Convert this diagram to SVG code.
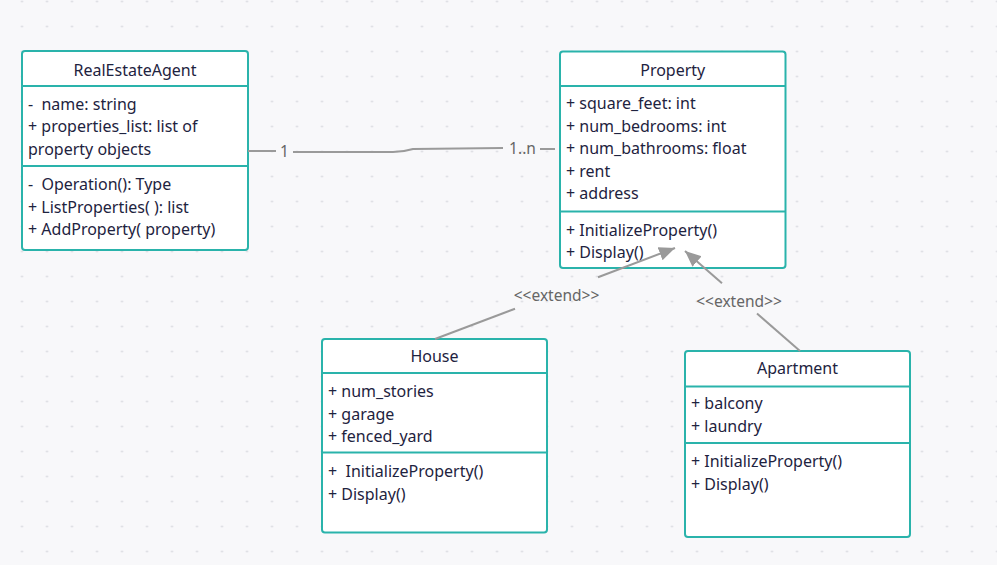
<svg xmlns="http://www.w3.org/2000/svg" width="997" height="565" viewBox="0 0 997 565">
<defs>
<pattern id="grid" patternUnits="userSpaceOnUse" x="9.5" y="-11" width="25" height="25">
<circle cx="12.5" cy="12.5" r="1.1" fill="#d9dae0"/>
</pattern>
<marker id="tri" markerUnits="userSpaceOnUse" markerWidth="18" markerHeight="16" refX="16" refY="7" orient="auto">
<path d="M0,0 L16,7 L0,14 Z" fill="#9a9a9a"/>
</marker>
<style>
.box{fill:#ffffff;stroke:#2ab3ab;stroke-width:2}
.sep{stroke:#2ab3ab;stroke-width:2}
.t{font-family:"Noto Sans","Open Sans","DejaVu Sans",sans-serif;font-size:16px;fill:#1e2340;white-space:pre}
.c{text-anchor:middle}
.conn{stroke:#9a9a9a;stroke-width:2;fill:none}
.lbl{font-family:"Noto Sans","Open Sans","DejaVu Sans",sans-serif;font-size:15.5px;fill:#666666}
</style>
</defs>
<rect width="997" height="565" fill="#f8f8fa"/>
<rect width="997" height="565" fill="url(#grid)"/>

<g id="RealEstateAgent">
<rect class="box" x="22" y="51" width="226" height="199" rx="3"/>
<line class="sep" x1="22" y1="86" x2="248" y2="86"/>
<line class="sep" x1="22" y1="166" x2="248" y2="166"/>
<text class="t c" x="135" y="75.5">RealEstateAgent</text>
<text class="t" x="28" y="109.5" xml:space="preserve">-  name: string</text>
<text class="t" x="28" y="132">+ properties_list: list of</text>
<text class="t" x="28" y="154.5">property objects</text>
<text class="t" x="28" y="190" xml:space="preserve">-  Operation(): Type</text>
<text class="t" x="28" y="212.5">+ ListProperties( ): list</text>
<text class="t" x="28" y="235">+ AddProperty( property)</text>
</g>

<g id="Property">
<rect class="box" x="560" y="51.5" width="225.5" height="216.5" rx="3"/>
<line class="sep" x1="560" y1="86" x2="785.5" y2="86"/>
<line class="sep" x1="560" y1="211.5" x2="785.5" y2="211.5"/>
<text class="t c" x="672.75" y="75.5">Property</text>
<text class="t" x="566" y="109">+ square_feet: int</text>
<text class="t" x="566" y="131.5">+ num_bedrooms: int</text>
<text class="t" x="566" y="154">+ num_bathrooms: float</text>
<text class="t" x="566" y="176.5">+ rent</text>
<text class="t" x="566" y="199">+ address</text>
<text class="t" x="566" y="235.5">+ InitializeProperty()</text>
<text class="t" x="566" y="258">+ Display()</text>
</g>

<g id="House">
<rect class="box" x="322" y="339" width="225" height="193.5" rx="3"/>
<line class="sep" x1="322" y1="373" x2="547" y2="373"/>
<line class="sep" x1="322" y1="452.5" x2="547" y2="452.5"/>
<text class="t c" x="434.5" y="362">House</text>
<text class="t" x="328" y="397">+ num_stories</text>
<text class="t" x="328" y="419.5">+ garage</text>
<text class="t" x="328" y="442">+ fenced_yard</text>
<text class="t" x="328" y="477" xml:space="preserve">+  InitializeProperty()</text>
<text class="t" x="328" y="499.5">+ Display()</text>
</g>

<g id="Apartment">
<rect class="box" x="685" y="351" width="225" height="186" rx="3"/>
<line class="sep" x1="685" y1="386.5" x2="910" y2="386.5"/>
<line class="sep" x1="685" y1="443" x2="910" y2="443"/>
<text class="t c" x="797.5" y="374">Apartment</text>
<text class="t" x="691" y="409">+ balcony</text>
<text class="t" x="691" y="431.5">+ laundry</text>
<text class="t" x="691" y="467">+ InitializeProperty()</text>
<text class="t" x="691" y="489.5">+ Display()</text>
</g>

<g id="connectors">
<path class="conn" d="M248,151 L276,151"/>
<path class="conn" d="M293,152 L393,152 Q403,152 413,149 L503,148"/>
<text class="lbl" x="284.5" y="157" text-anchor="middle">1</text>
<text class="lbl" x="522.5" y="153.5" text-anchor="middle">1..n</text>
<path class="conn" d="M540,149 L555,149"/>
<path class="conn" d="M435,339 L515,308.7"/>
<path class="conn" d="M598,277.2 L675,248" marker-end="url(#tri)"/>
<text class="lbl" x="556.5" y="300.5" text-anchor="middle">&lt;&lt;extend&gt;&gt;</text>
<path class="conn" d="M800,351 L757,313.6"/>
<path class="conn" d="M722,283.2 L685,251" marker-end="url(#tri)"/>
<text class="lbl" x="739" y="306.5" text-anchor="middle">&lt;&lt;extend&gt;&gt;</text>
</g>
</svg>
